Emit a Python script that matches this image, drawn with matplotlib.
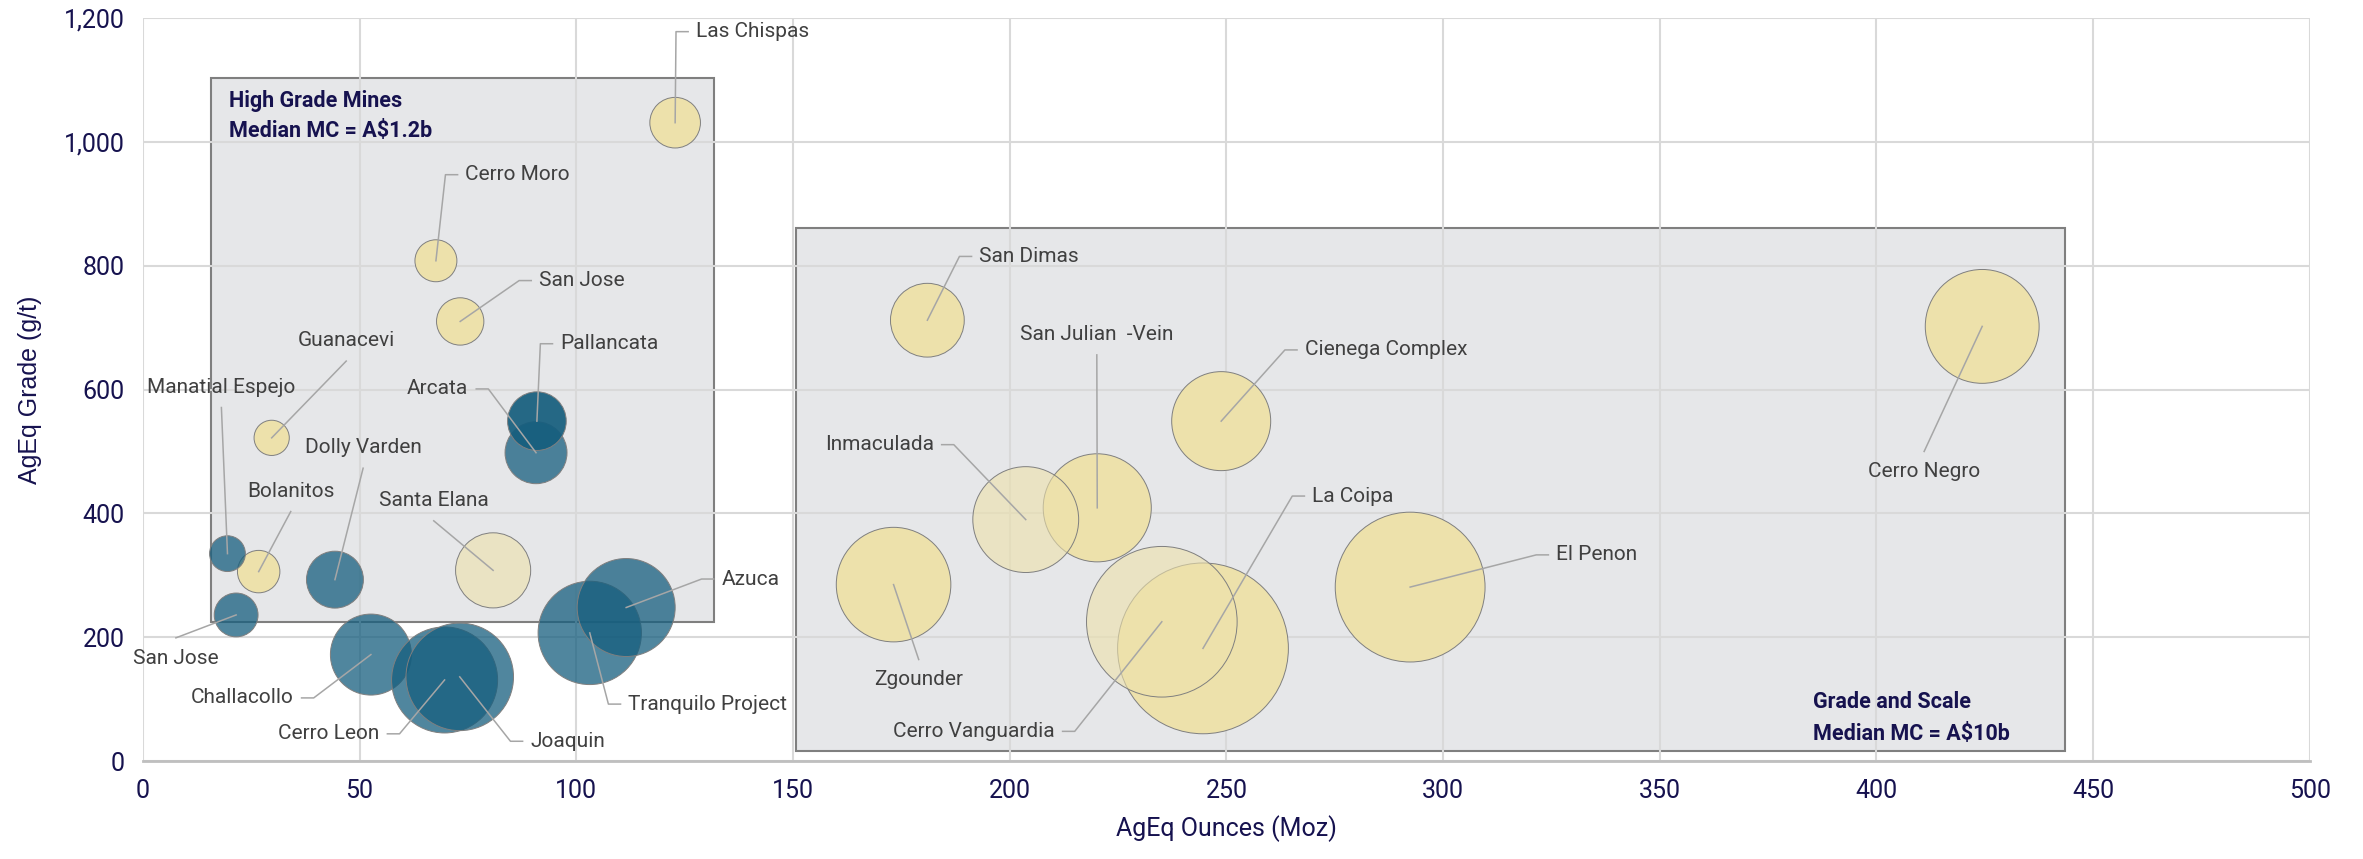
import matplotlib
matplotlib.use("Agg")
import matplotlib.pyplot as plt
from matplotlib import font_manager
from matplotlib.patches import Rectangle
from matplotlib.ticker import FuncFormatter
import numpy as np

# --- data -------------------------------------------------------------
mines = ["Las Chispas", "Cerro Moro", "San Jose", "Guanacevi", "Bolanitos",
         "San Dimas", "Cienega Complex", "San Julian  -Vein", "Zgounder",
         "La Coipa", "El Penon", "Cerro Negro",
         "Santa Elana", "Inmaculada", "Cerro Vanguardia",
         "Manatial Espejo", "San Jose", "Dolly Varden", "Arcata", "Challacollo",
         "Cerro Leon", "Joaquin", "Tranquilo Project", "Azuca", "Pallancata"]
ounces = [122.8, 67.6, 73.2, 29.7, 26.7,
          181.0, 248.8, 220.2, 173.2,
          244.6, 292.4, 424.4,
          80.8, 203.7, 235.1,
          19.5, 21.5, 44.3, 90.7, 52.6,
          69.6, 73.1, 103.1, 111.5, 90.9]
grade = [1031, 808, 710, 522, 306,
         712, 549, 409, 285,
         182, 281, 702,
         308, 390, 225,
         335, 236, 293, 498, 172,
         131, 136, 207, 248, 549]
bubble_size = [6.4, 4.4, 5.6, 3.1, 4.5,
               13.6, 24.5, 29.2, 32.8,
               72.9, 56.1, 32.4,
               14.1, 28.0, 56.7,
               3.2, 4.8, 8.1, 9.6, 16.4,
               28.1, 28.9, 26.7, 24.0, 8.6]
group = ["gold"] * 12 + ["pale"] * 3 + ["teal"] * 9 + ["dark"]

# boxes: (x0, x1, y0, y1)
high_grade_box = (15.8, 131.7, 224, 1103)
scale_box = (150.6, 443.4, 16, 861)

# label layout: text x, text y, kind
label_pos = [(127.6, 1178, "left"), (74.4, 947, "left"), (91.4, 776, "left"),
             (46.9, 679, "up"), (34.1, 436, "up"),
             (193.0, 815, "left"), (268.1, 664, "left"), (220.1, 689, "up"),
             (179.0, 131, "down"),
             (269.8, 428, "left"), (326.1, 333, "left"), (411.0, 467, "down"),
             (67.1, 421, "up"), (182.5, 511, "right"), (210.4, 48, "right"),
             (18.1, 604, "up"), (7.6, 166, "down"), (50.8, 506, "up"),
             (75.1, 601, "right"), (34.8, 102, "right"),
             (54.6, 44, "right"), (89.4, 32, "left"), (112.0, 92, "left"),
             (133.5, 294, "left"), (96.3, 674, "left")]

colors = {"gold": (0.929, 0.882, 0.671, 1.0),
          "pale": (0.929, 0.882, 0.671, 0.6),
          "teal": (0.086, 0.369, 0.494, 0.75),
          "dark": (0.086, 0.369, 0.494, 0.93)}

names = {f.name for f in font_manager.fontManager.ttflist}
narrow = "Roboto" if "Roboto" in names else "DejaVu Sans"
arial = "Liberation Sans" if "Liberation Sans" in names else "DejaVu Sans"

navy = "#16124f"
label_grey = "#404040"
line_grey = "#a6a6a6"

fig = plt.figure(figsize=(23.63, 8.59), dpi=100)
ax = fig.add_axes([0.0605, 0.114, 0.917, 0.865])

for x0, x1, y0, y1 in [high_grade_box, scale_box]:
    ax.add_patch(Rectangle((x0, y0), x1 - x0, y1 - y0, facecolor="#e6e7e9",
                           edgecolor="#7f7f7f", linewidth=1.5, zorder=0.3))

# bubbles, area proportional to size
ax.scatter(ounces, grade, s=np.array(bubble_size) * 207.4,
           c=[colors[g] for g in group], edgecolors="#7f7f7f",
           linewidths=0.7, zorder=2)

# labels with excel style leader lines
for name, x, y, (tx, ty, kind) in zip(mines, ounces, grade, label_pos):
    if kind == "left":
        ax.plot([x, tx - 4.6, tx - 1.8], [y, ty, ty], color=line_grey, lw=1.1, zorder=3)
        ha = "left"
    elif kind == "right":
        ax.plot([x, tx + 4.6, tx + 1.8], [y, ty, ty], color=line_grey, lw=1.1, zorder=3)
        ha = "right"
    elif kind == "up":
        ax.plot([x, tx], [y, ty - 33], color=line_grey, lw=1.1, zorder=3)
        ha = "center"
    else:
        ax.plot([x, tx], [y, ty + 33], color=line_grey, lw=1.1, zorder=3)
        ha = "center"
    ax.text(tx, ty, name, ha=ha, va="center", fontsize=15,
            color=label_grey, family=narrow, zorder=4)

box_text = dict(ha="left", va="center", fontsize=15.5, fontweight="bold",
                color=navy, family=narrow)
ax.text(19.8, 1066, "High Grade Mines", **box_text)
ax.text(19.8, 1017, "Median MC = A\\$1.2b", **box_text)
ax.text(385.3, 95, "Grade and Scale", **box_text)
ax.text(385.3, 44, "Median MC = A\\$10b", **box_text)

ax.set_xlim(0, 500)
ax.set_ylim(0, 1200)
ax.set_xticks(np.arange(0, 501, 50))
ax.set_yticks(np.arange(0, 1201, 200))
ax.yaxis.set_major_formatter(FuncFormatter(lambda v, p: f"{int(v):,}"))
ax.grid(True, color="#d9d9d9", linewidth=1.5)
ax.set_axisbelow(True)
for side in ["left", "top", "right"]:
    ax.spines[side].set_visible(False)
ax.spines["bottom"].set_color("#bfbfbf")
ax.spines["bottom"].set_linewidth(2)
ax.tick_params(length=0, labelsize=18, labelcolor=navy, pad=13)
for lab in ax.get_xticklabels() + ax.get_yticklabels():
    lab.set_family(narrow)

ax.set_xlabel("AgEq Ounces (Moz)", fontsize=18, color=navy, family=narrow, labelpad=9)
ax.set_ylabel("AgEq Grade (g/t)", fontsize=18, color=navy, family=arial, labelpad=16)

fig.savefig("out.png", dpi=100)
